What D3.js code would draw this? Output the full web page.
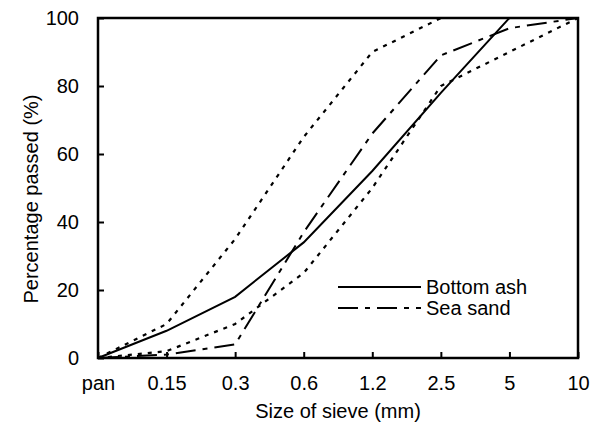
<!DOCTYPE html>
<html>
<head>
<meta charset="utf-8">
<script src="https://cdn.jsdelivr.net/npm/d3@7"></script>
<style>
  html, body { margin: 0; padding: 0; background: #fff; }
  svg { display: block; font-family: "Liberation Sans", Arial, sans-serif; }
</style>
</head>
<body>
<svg id="chart" width="605" height="439"></svg>
<script>
// Sieve sizes (mm) on the x axis
const sieves = ["pan", "0.15", "0.3", "0.6", "1.2", "2.5", "5", "10"];
const yTicks = [0, 20, 40, 60, 80, 100];

// Cumulative percentage passing for each sieve
const bottomAsh = [0, 8, 18, 34, 55, 78, 100, 100];
const seaSand   = [0, 1, 4, 37, 66, 89, 97, 100];
// Grading envelope (upper and lower limits)
const upperLimit = [0, 10, 35, 65, 90, 100, 100, 100];
const lowerLimit = [0, 2, 10, 25, 50, 80, 90, 100];

const svg = d3.select("#chart");
const plotLeft = 98, plotRight = 578, plotTop = 18, plotBottom = 358;
const fontSize = "20px";

const x = d3.scalePoint().domain(sieves).range([plotLeft, plotRight]);
const y = d3.scaleLinear().domain([0, 100]).range([plotBottom, plotTop]);

const line = d3.line()
  .x((d, i) => x(sieves[i]))
  .y(d => y(d));

// Envelope curves
[upperLimit, lowerLimit].forEach(s => {
  svg.append("path")
    .attr("d", line(s))
    .attr("fill", "none")
    .attr("stroke", "#000")
    .attr("stroke-width", 2.2)
    .attr("stroke-dasharray", "4,6");
});

// Sea sand
svg.append("path")
  .attr("d", line(seaSand))
  .attr("fill", "none")
  .attr("stroke", "#000")
  .attr("stroke-width", 2)
  .attr("stroke-dasharray", "20,7,5,7");

// Bottom ash
svg.append("path")
  .attr("d", line(bottomAsh))
  .attr("fill", "none")
  .attr("stroke", "#000")
  .attr("stroke-width", 2);

// Axes with inward ticks
const yAxis = d3.axisLeft(y).tickValues(yTicks).tickSize(-6).tickPadding(19);
const gy = svg.append("g").attr("transform", `translate(${plotLeft},0)`).call(yAxis);
const xAxis = d3.axisBottom(x).tickSize(-6).tickPadding(18);
const gx = svg.append("g").attr("transform", `translate(0,${plotBottom})`).call(xAxis);

[gx, gy].forEach(g => {
  g.select(".domain").remove();
  g.selectAll(".tick line").attr("stroke", "#000").attr("stroke-width", 2);
  g.selectAll(".tick text")
    .attr("fill", "#000")
    .style("font-size", fontSize)
    .style("font-family", "\"Liberation Sans\", Arial, sans-serif");
});

// Plot frame
svg.append("rect")
  .attr("x", plotLeft).attr("y", plotTop)
  .attr("width", plotRight - plotLeft).attr("height", plotBottom - plotTop)
  .attr("fill", "none")
  .attr("stroke", "#000")
  .attr("stroke-width", 2.5);

// Axis titles
svg.append("text")
  .attr("x", (plotLeft + plotRight) / 2).attr("y", 418)
  .attr("text-anchor", "middle")
  .style("font-size", fontSize)
  .text("Size of sieve (mm)");

svg.append("text")
  .attr("transform", `translate(38,199) rotate(-90)`)
  .attr("text-anchor", "middle")
  .style("font-size", fontSize)
  .text("Percentage passed (%)");

// Legend
const legend = [
  { label: "Bottom ash", dash: null, y: 287 },
  { label: "Sea sand", dash: "20,7,5,7", y: 308 }
];
legend.forEach(l => {
  const ln = svg.append("line")
    .attr("x1", 338).attr("x2", 421)
    .attr("y1", l.y).attr("y2", l.y)
    .attr("stroke", "#000").attr("stroke-width", 2);
  if (l.dash) ln.attr("stroke-dasharray", l.dash);
  svg.append("text")
    .attr("x", 426).attr("y", l.y)
    .attr("dy", "0.35em")
    .style("font-size", fontSize)
    .text(l.label);
});
</script>
</body>
</html>
